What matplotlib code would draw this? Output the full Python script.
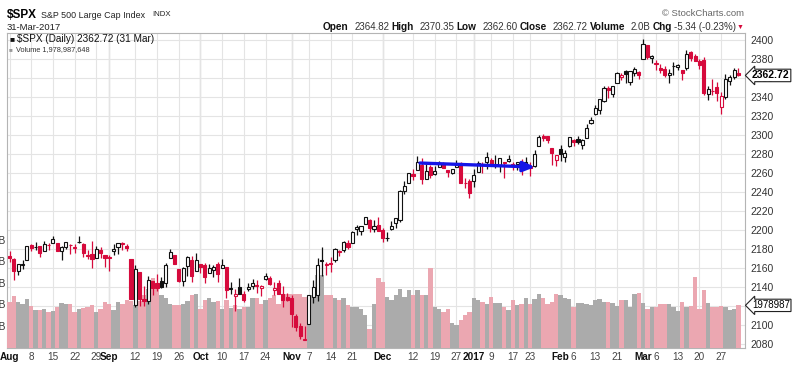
from __future__ import annotations

import matplotlib

matplotlib.use("Agg")

import matplotlib.pyplot as plt
import numpy as np

W, H = 800, 365

PREV_CLOSE = 2173.60  # close of 29 Jul 2016, used to colour the first bar
LAST_VOLUME = 1978987648

# daily OHLC, 1 Aug 2016 .. 31 Mar 2017 (one list per field, grouped by month)
opens = [
    # Aug
    2173.15, 2169.94, 2156.81, 2163.51, 2168.79, 2183.76, 2182.24, 2182.81, 2177.97, 2183.74, 2186.08, 2186.24,
    2177.84, 2181.90, 2184.24, 2181.58, 2187.81, 2185.09, 2173.29, 2175.10, 2170.19, 2179.45, 2173.56,
    # Sep
    2171.33, 2177.49, 2181.61, 2185.17, 2182.76, 2169.08, 2120.86, 2155.81, 2127.86, 2125.36, 2146.48, 2143.99,
    2145.94, 2144.58, 2170.94, 2173.29, 2158.54, 2146.04, 2161.85, 2168.90, 2156.51,
    # Oct
    2164.33, 2163.37, 2155.15, 2158.22, 2164.19, 2160.39, 2161.35, 2137.67, 2130.26, 2139.68, 2132.95, 2138.31,
    2140.81, 2142.51, 2139.43, 2148.50, 2149.72, 2136.97, 2144.06, 2132.23, 2129.78,
    # Nov
    2128.68, 2109.43, 2098.80, 2083.79, 2100.59, 2129.92, 2131.56, 2167.49, 2162.71, 2165.64, 2168.29, 2177.53,
    2178.61, 2186.85, 2186.43, 2201.56, 2198.55, 2206.27, 2210.21, 2200.76, 2204.97,
    # Dec
    2200.17, 2191.12, 2200.65, 2207.26, 2210.72, 2241.13, 2249.73, 2258.83, 2263.32, 2268.35, 2253.77, 2266.81,
    2259.24, 2266.50, 2270.54, 2262.93, 2260.25, 2266.23, 2270.23, 2249.50, 2251.61,
    # Jan
    2251.57, 2261.60, 2268.18, 2271.14, 2273.59, 2269.72, 2268.60, 2271.14, 2272.74, 2269.14, 2269.14, 2271.90,
    2269.96, 2267.78, 2267.88, 2288.88, 2298.63, 2299.02, 2286.01, 2274.02,
    # Feb
    2285.59, 2276.69, 2288.54, 2294.28, 2295.87, 2289.55, 2296.70, 2312.27, 2321.72, 2326.12, 2335.58, 2349.64,
    2343.01, 2354.91, 2361.11, 2367.50, 2355.73, 2365.23, 2366.08,
    # Mar
    2380.13, 2394.75, 2380.92, 2375.23, 2370.74, 2369.81, 2363.49, 2372.52, 2371.56, 2368.55, 2370.34, 2387.71,
    2383.71, 2378.24, 2379.32, 2343.00, 2345.97, 2350.42, 2329.11, 2339.79, 2356.54, 2361.31, 2364.82,
]
highs = [
    2178.29, 2170.20, 2163.79, 2168.19, 2182.87, 2185.44, 2187.66, 2183.41, 2188.45, 2186.28, 2193.81, 2186.24,
    2183.08, 2187.03, 2185.00, 2185.15, 2193.42, 2186.66, 2179.00, 2187.94, 2183.48, 2182.27, 2173.79,
    2173.56, 2184.87, 2186.57, 2187.87, 2184.94, 2169.08, 2163.30, 2155.81, 2141.33, 2151.31, 2146.48, 2153.61,
    2150.80, 2165.11, 2179.99, 2173.75, 2158.54, 2161.13, 2172.40, 2172.67, 2175.30,
    2164.41, 2165.46, 2163.95, 2162.93, 2165.86, 2169.60, 2161.56, 2145.36, 2138.19, 2149.19, 2135.61, 2144.38,
    2148.44, 2147.18, 2142.63, 2154.79, 2151.44, 2145.73, 2147.13, 2140.72, 2133.25,
    2131.45, 2111.76, 2102.56, 2099.07, 2132.00, 2146.87, 2170.10, 2182.30, 2165.92, 2171.36, 2180.84, 2179.22,
    2188.06, 2189.89, 2198.70, 2204.80, 2204.72, 2213.35, 2211.14, 2210.46, 2214.10,
    2202.60, 2197.95, 2209.42, 2212.78, 2241.63, 2251.69, 2259.80, 2264.03, 2277.53, 2276.20, 2272.12, 2268.05,
    2267.47, 2272.56, 2271.23, 2263.18, 2263.79, 2273.82, 2271.31, 2254.51, 2253.58,
    2263.88, 2272.82, 2271.50, 2282.10, 2275.49, 2279.27, 2275.32, 2271.78, 2278.68, 2272.08, 2272.01, 2274.33,
    2276.96, 2271.78, 2284.63, 2299.55, 2300.99, 2299.02, 2286.01, 2279.09,
    2289.14, 2283.97, 2298.31, 2296.18, 2299.40, 2295.91, 2311.08, 2319.23, 2331.58, 2337.58, 2351.30, 2351.31,
    2351.16, 2366.71, 2365.13, 2368.26, 2367.34, 2371.54, 2367.79,
    2400.98, 2394.75, 2383.89, 2378.80, 2375.12, 2373.09, 2369.08, 2376.86, 2374.42, 2368.55, 2390.01, 2388.10,
    2385.71, 2379.55, 2381.93, 2351.81, 2358.92, 2356.22, 2344.90, 2363.78, 2363.36, 2370.42, 2370.35,
]
lows = [
    2166.21, 2147.58, 2152.86, 2159.07, 2168.79, 2177.85, 2178.61, 2172.00, 2177.97, 2179.42, 2186.08, 2178.14,
    2168.50, 2180.46, 2175.13, 2175.96, 2186.80, 2171.25, 2169.74, 2160.39, 2170.19, 2170.41, 2161.35,
    2157.09, 2173.59, 2175.10, 2179.07, 2177.49, 2127.81, 2119.12, 2119.87, 2119.90, 2122.36, 2131.20, 2135.91,
    2139.17, 2139.57, 2170.94, 2163.97, 2145.04, 2141.55, 2151.79, 2145.20, 2156.51,
    2154.77, 2144.01, 2155.15, 2150.28, 2144.85, 2160.39, 2128.84, 2132.77, 2114.72, 2132.98, 2124.43, 2135.49,
    2138.15, 2133.44, 2130.09, 2146.91, 2141.93, 2131.59, 2132.52, 2119.36, 2125.53,
    2097.85, 2094.00, 2085.23, 2083.79, 2100.59, 2123.56, 2125.35, 2151.17, 2152.49, 2156.08, 2166.38, 2172.20,
    2176.65, 2180.38, 2186.43, 2194.51, 2194.51, 2206.27, 2198.36, 2198.15, 2198.81,
    2187.44, 2188.37, 2199.97, 2202.21, 2208.93, 2237.57, 2249.23, 2252.37, 2263.32, 2248.44, 2253.77, 2254.24,
    2258.21, 2266.14, 2265.15, 2256.08, 2258.84, 2266.15, 2249.11, 2244.56, 2233.62,
    2245.13, 2261.60, 2260.45, 2264.06, 2268.90, 2265.27, 2260.83, 2254.25, 2271.51, 2262.81, 2263.35, 2258.41,
    2265.01, 2257.02, 2266.68, 2288.88, 2294.08, 2291.62, 2268.04, 2267.21,
    2272.44, 2271.65, 2287.88, 2288.57, 2290.16, 2285.38, 2296.61, 2311.10, 2321.42, 2322.17, 2334.81, 2338.87,
    2339.58, 2354.91, 2358.34, 2355.09, 2352.87, 2361.87, 2358.96,
    2380.13, 2380.17, 2375.39, 2367.98, 2365.51, 2361.01, 2354.54, 2363.04, 2368.52, 2358.18, 2368.94, 2377.94,
    2377.64, 2369.66, 2341.90, 2336.45, 2342.13, 2335.74, 2322.25, 2337.63, 2352.94, 2358.58, 2362.60,
]
closes = [
    2170.84, 2157.03, 2163.79, 2164.25, 2182.87, 2180.89, 2181.74, 2175.49, 2185.79, 2184.05, 2190.15, 2178.15,
    2182.22, 2187.02, 2183.87, 2182.64, 2186.90, 2175.44, 2172.47, 2169.04, 2180.38, 2176.12, 2170.95,
    2170.86, 2179.98, 2186.48, 2186.16, 2181.30, 2127.81, 2159.04, 2127.02, 2125.77, 2147.26, 2139.16, 2139.12,
    2139.76, 2163.12, 2177.18, 2164.69, 2146.10, 2159.93, 2171.37, 2151.13, 2168.27,
    2161.20, 2150.49, 2159.73, 2160.77, 2153.74, 2163.66, 2136.73, 2139.18, 2132.55, 2132.98, 2126.50, 2139.60,
    2144.29, 2141.34, 2141.16, 2151.33, 2143.16, 2139.43, 2133.04, 2126.41, 2126.15,
    2111.72, 2097.94, 2088.66, 2085.18, 2131.52, 2139.56, 2163.26, 2167.48, 2164.45, 2164.20, 2180.39, 2176.94,
    2187.12, 2181.90, 2198.18, 2202.94, 2204.72, 2213.35, 2201.72, 2204.66, 2198.81,
    2191.08, 2191.95, 2204.71, 2212.23, 2241.35, 2246.19, 2259.53, 2256.96, 2271.72, 2253.28, 2262.03, 2258.07,
    2262.53, 2270.76, 2265.18, 2260.96, 2263.79, 2268.88, 2249.92, 2249.26, 2238.83,
    2257.83, 2270.75, 2269.00, 2276.98, 2268.90, 2268.90, 2275.32, 2270.44, 2274.64, 2267.89, 2271.89, 2263.69,
    2271.31, 2265.20, 2280.07, 2298.37, 2296.68, 2294.69, 2280.90, 2278.87,
    2279.55, 2280.85, 2297.42, 2292.56, 2293.08, 2294.67, 2307.87, 2316.10, 2328.25, 2337.58, 2349.25, 2347.22,
    2351.16, 2365.38, 2362.82, 2363.81, 2367.34, 2369.75, 2363.64,
    2395.96, 2381.92, 2383.12, 2375.31, 2368.39, 2362.98, 2364.87, 2372.60, 2373.47, 2365.45, 2385.26, 2381.38,
    2378.25, 2373.47, 2344.02, 2348.45, 2345.96, 2343.98, 2341.59, 2358.57, 2361.13, 2368.06, 2362.72,
]
# volume in billions of shares
volumes = [
    2.06, 2.20, 2.06, 2.00, 2.12, 1.96, 1.87, 1.87, 1.90, 1.83, 1.84, 1.94, 2.03, 2.00, 2.00, 1.83, 1.90, 1.92,
    1.94, 1.98, 1.82, 1.90, 2.06,
    2.00, 1.87, 2.06, 2.02, 2.10, 2.08, 1.98, 2.07, 2.21, 2.37, 2.62, 2.37, 2.21, 2.14, 2.02, 1.98, 1.98, 2.00,
    2.07, 2.23, 2.25,
    1.90, 2.10, 2.14, 2.06, 2.07, 1.90, 2.10, 1.92, 1.98, 1.90, 1.94, 1.94, 2.14, 2.14, 2.02, 2.10, 2.14, 2.21,
    2.02, 2.25, 2.25,
    2.25, 2.25, 2.25, 2.17, 2.17, 2.21, 2.68, 2.68, 2.21, 2.21, 2.14, 2.10, 2.14, 1.98, 1.95, 1.95, 1.90, 1.75,
    1.44, 2.02, 2.62,
    2.52, 2.17, 2.10, 2.21, 2.37, 2.17, 2.33, 2.21, 2.33, 2.21, 2.21, 2.85, 1.94, 1.90, 1.83, 1.90, 1.56, 1.52,
    1.63, 1.75, 1.83,
    2.14, 2.10, 2.06, 2.02, 2.17, 2.04, 2.04, 1.94, 1.87, 2.10, 1.98, 2.00, 2.15, 2.00, 2.12, 2.24, 2.15, 2.00,
    2.06, 2.24,
    2.21, 2.14, 2.12, 1.94, 2.04, 2.04, 2.02, 1.98, 2.10, 2.12, 2.06, 2.06, 2.04, 1.96, 2.10, 2.10, 1.94, 2.24,
    2.27,
    2.04, 1.90, 1.94, 1.94, 2.02, 2.00, 2.00, 1.93, 1.84, 2.06, 1.94, 1.96, 2.64, 1.90, 2.33, 2.04, 1.94, 1.94,
    1.96, 1.95, 1.87, 1.90, 1.979,
]

# x axis: trading-day index of each labelled tick
tick_pos = [0, 5, 10, 15, 20, 23, 29, 34, 39, 44, 49, 54, 59, 65, 69, 74, 79, 86, 93, 98, 103, 107, 111, 116,
            120, 127, 130, 135, 140, 146, 149, 154, 159, 164]
tick_labels = ["Aug", "8", "15", "22", "29", "Sep", "12", "19", "26", "Oct", "10", "17", "24", "Nov", "7", "14",
               "21", "Dec", "12", "19", "27", "2017", "9", "17", "23", "Feb", "6", "13", "21", "Mar", "6", "13",
               "20", "27"]
month_labels = {"Aug", "Sep", "Oct", "Nov", "Dec", "2017", "Feb", "Mar"}

price_ticks = list(range(2080, 2401, 20))
vol_ticks = [1.5, 2.0, 2.5, 3.0, 3.5]
vol_tick_labels = ["1.5B", "2.0B", "2.5B", "3.0B", "3.5B"]

# trend arrow drawn on the chart (trading-day index, price)
arrow_start = (94.6, 2270.5)
arrow_end = (121.1, 2266.3)

RED = "#d60a3c"
VOL_RED = "#eba7b1"
VOL_GRAY = "#ababab"
GRID = "#e4e4e4"
MONTH_GRID = "#c6c6c6"


def px(x: float, y: float) -> tuple[float, float]:
    return x / W, 1 - y / H


def place_row(fig, pieces, x_right: float, y: float, renderer) -> None:
    x = x_right
    for text, weight, color, size, gap in reversed(pieces):
        t = fig.text(*px(x, y), text, ha="right", va="center", fontsize=size, fontweight=weight, color=color)
        x -= t.get_window_extent(renderer).width + gap


def main() -> None:
    plt.rcParams["font.family"] = ["Liberation Sans", "DejaVu Sans"]

    n = len(closes)
    assert len(opens) == len(highs) == len(lows) == len(volumes) == n
    idx = np.arange(n)
    o = np.array(opens)
    h = np.array(highs)
    lo = np.array(lows)
    c = np.array(closes)
    prev = np.concatenate([[PREV_CLOSE], c[:-1]])
    up_day = c >= prev
    hollow = c > o

    fig = plt.figure(figsize=(W / 100, H / 100), dpi=100)
    left, right, top, bottom = 7, 745, 33, 348
    rect = [left / W, 1 - bottom / H, (right - left) / W, (bottom - top) / H]

    ax = fig.add_axes(rect)
    ax.set_xlim(-0.58, 169.5)
    ax.set_ylim(2075.8, 2407.4)
    ax.set_yticks(price_ticks)
    ax.yaxis.tick_right()
    ax.tick_params(axis="y", length=0, pad=4, labelsize=7.5, labelcolor="#333333")
    ax.set_xticks(tick_pos)
    ax.set_xticklabels(tick_labels)
    for lab in ax.get_xticklabels():
        if lab.get_text() in month_labels:
            lab.set_fontweight("bold")
            lab.set_color("#111111")
        else:
            lab.set_color("#444444")
    ax.tick_params(axis="x", length=0, pad=3, labelsize=7.2)
    ax.grid(True, color=GRID, linewidth=0.8)
    for p, lab in zip(tick_pos, tick_labels):
        if lab in month_labels and p > 0:
            ax.axvline(p, color=MONTH_GRID, linewidth=0.9, zorder=0.5)
    ax.set_axisbelow(True)
    for sp in ax.spines.values():
        sp.set_color("#b4b4b4")
        sp.set_linewidth(0.8)

    # volume overlay
    axv = fig.add_axes(rect, sharex=ax)
    axv.patch.set_visible(False)
    for sp in axv.spines.values():
        sp.set_visible(False)
    axv.set_ylim(0.988, 8.31)
    vol_colors = [VOL_GRAY if u else VOL_RED for u in up_day]
    axv.bar(idx, volumes, width=1.0, bottom=0, color=vol_colors, linewidth=0)
    axv.set_yticks(vol_ticks)
    axv.set_yticklabels(vol_tick_labels)
    axv.yaxis.tick_left()
    axv.tick_params(axis="y", length=0, pad=1, labelsize=7.5, labelcolor="#333333")
    axv.tick_params(axis="x", bottom=False, labelbottom=False)

    # candles
    axc = fig.add_axes(rect, sharex=ax, sharey=ax)
    axc.set_axis_off()
    colors = np.where(up_day, "#111111", RED)
    axc.vlines(idx, lo, h, colors=colors, linewidth=0.9, zorder=2)
    body_lo = np.minimum(o, c)
    body_h = np.maximum(np.abs(c - o), 0.6)
    faces = [("white" if hol else col) for hol, col in zip(hollow, colors)]
    axc.bar(idx, body_h, width=0.72, bottom=body_lo, color=faces, edgecolor=colors, linewidth=0.8, zorder=3)

    axc.annotate("", xy=arrow_end, xytext=arrow_start,
                 arrowprops=dict(arrowstyle="-|>,head_length=0.7,head_width=0.3", color="#1515e6", lw=2.4,
                                 shrinkA=0, shrinkB=0), zorder=4)

    # last value markers on the right
    axc.annotate(f"{closes[-1]:.2f}", xy=(1.0, closes[-1]), xycoords=("axes fraction", "data"),
                 xytext=(5, 0), textcoords="offset points", ha="left", va="center", fontsize=7.5,
                 fontweight="bold", annotation_clip=False,
                 bbox=dict(boxstyle="larrow,pad=0.12", fc="white", ec="#222222", lw=0.8))
    axv.annotate(str(LAST_VOLUME)[:7], xy=(1.0, volumes[-1]), xycoords=("axes fraction", "data"),
                 xytext=(5, 0), textcoords="offset points", ha="left", va="center", fontsize=7,
                 annotation_clip=False, zorder=10,
                 bbox=dict(boxstyle="larrow,pad=0.12", fc="white", ec="#222222", lw=0.8))
    axv.set_zorder(1)
    axc.set_zorder(2)

    # header
    renderer = fig.canvas.get_renderer()
    fig.text(*px(7, 15), "$SPX", fontsize=8.5, fontweight="bold", va="center", ha="left")
    fig.text(*px(41, 15), "S&P 500 Large Cap Index", fontsize=6.4, va="center", ha="left", color="#222222")
    fig.text(*px(152, 15), "INDX", fontsize=5.6, va="center", ha="left", color="#222222")
    fig.text(*px(7, 27), "31-Mar-2017", fontsize=6.8, va="center", ha="left", color="#222222")
    fig.text(*px(744, 14), "© StockCharts.com", fontsize=6.8, va="center", ha="right", color="#666666")
    pieces = [
        ("Open", "bold", "#111111", 7.2, 2), (f"{opens[-1]:.2f}", "normal", "#333333", 7, 6),
        ("High", "bold", "#111111", 7.2, 2), (f"{highs[-1]:.2f}", "normal", "#333333", 7, 6),
        ("Low", "bold", "#111111", 7.2, 2), (f"{lows[-1]:.2f}", "normal", "#333333", 7, 6),
        ("Close", "bold", "#111111", 7.2, 2), (f"{closes[-1]:.2f}", "normal", "#333333", 7, 6),
        ("Volume", "bold", "#111111", 7.2, 2), (f"{LAST_VOLUME / 1e9:.1f}B", "normal", "#333333", 7, 6),
        ("Chg", "bold", "#111111", 7.2, 2), ("-5.34 (-0.23%)", "normal", "#333333", 7, 2),
        ("▼", "normal", RED, 5, 0),
    ]
    place_row(fig, pieces, 743, 27, renderer)

    # legend lines inside the chart
    fig.text(*px(9, 39.5), "■", fontsize=6, va="center", ha="left", color="#111111")
    fig.text(*px(17, 39.5), "$SPX (Daily) 2362.72 (31 Mar)", fontsize=7.2, va="center", ha="left",
             color="#111111")
    fig.text(*px(9, 49.5), "■", fontsize=4.5, va="center", ha="left", color="#999999")
    fig.text(*px(16, 49.5), f"Volume {LAST_VOLUME:,}", fontsize=5.3, va="center", ha="left", color="#333333")

    fig.savefig("out.png", dpi=100)
    plt.close(fig)


if __name__ == "__main__":
    main()
